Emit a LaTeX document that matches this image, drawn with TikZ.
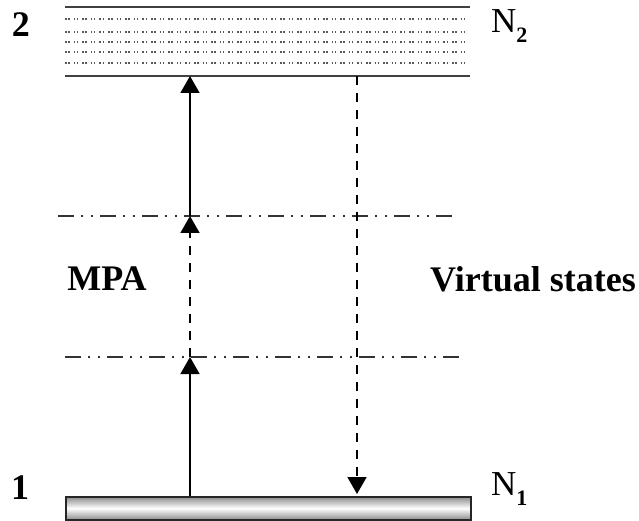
\documentclass[tikz,border=0pt]{standalone}
\usepackage{fontspec}
\setmainfont{Liberation Serif}
\usetikzlibrary{arrows.meta}
\newcommand{\lowsub}[1]{\raisebox{-0.28em}{\fontsize{22}{22}\selectfont\bfseries #1}}
\tikzset{
  lbl/.style={font=\fontsize{36}{40}\selectfont\bfseries, inner sep=0pt},
  nlbl/.style={font=\fontsize{35}{40}\selectfont, inner sep=0pt, anchor=west},
  bandline/.style={line width=2pt, draw=black!75},
  dotline/.style={line width=1.3pt, draw=black!65, dash pattern=on 1.5pt off 1.6pt on 1.5pt off 4pt},
  virt/.style={line width=1.7pt, draw=black!80, dash pattern=on 16pt off 7pt on 2pt off 8pt on 2pt off 7pt},
  tip/.style={-{Triangle[width=19pt,length=17pt]}},
  solidarr/.style={tip, line width=1.7pt},
  dasharr/.style={tip, line width=1.7pt, dash pattern=on 9pt off 8pt},
}
\begin{document}
\begin{tikzpicture}[x=1pt,y=-1pt]
\useasboundingbox (0,0) rectangle (639,521);
% upper level band
\draw[bandline] (65,7) -- (470,7);
\draw[bandline] (65,76) -- (470,76);
\foreach \yy in {19,32,42,52,63} \draw[dotline] (65,\yy) -- (468,\yy);
% lower level bar
\node[draw=black!85, line width=1.6pt, minimum width=405pt, minimum height=23pt, inner sep=0pt,
      top color=black!45, bottom color=black!45, middle color=white, anchor=north west] (bar) at (65,496) {};
% virtual states
\draw[virt] (58,216) -- (453,216);
\draw[virt] (65,357) -- (461,357);
% coordinates for transitions
\coordinate (a0) at (190,496);
\coordinate (a1) at (190,357);
\coordinate (a2) at (190,216);
\coordinate (a3) at (190,76);
\coordinate (d0) at (357,76);
\coordinate (d1) at (357,494);
\draw[solidarr] (a0) -- (a1);
\draw[dasharr] (a1) -- (a2);
\draw[solidarr] (a2) -- (a3);
\draw[dasharr] (d0) -- (d1);
% labels
\node[lbl] (l2) at (21,25) {2};
\node[lbl] (l1) at (20,488) {1};
\node[nlbl] (n2) at (491,26) {N\lowsub{2}};
\node[nlbl] (n1) at (491,489) {N\lowsub{1}};
\node[lbl] (mpa) at (107,279) {MPA};
\node[lbl, anchor=west] (vs) at (430,279) {Virtual states};
\end{tikzpicture}
\end{document}
